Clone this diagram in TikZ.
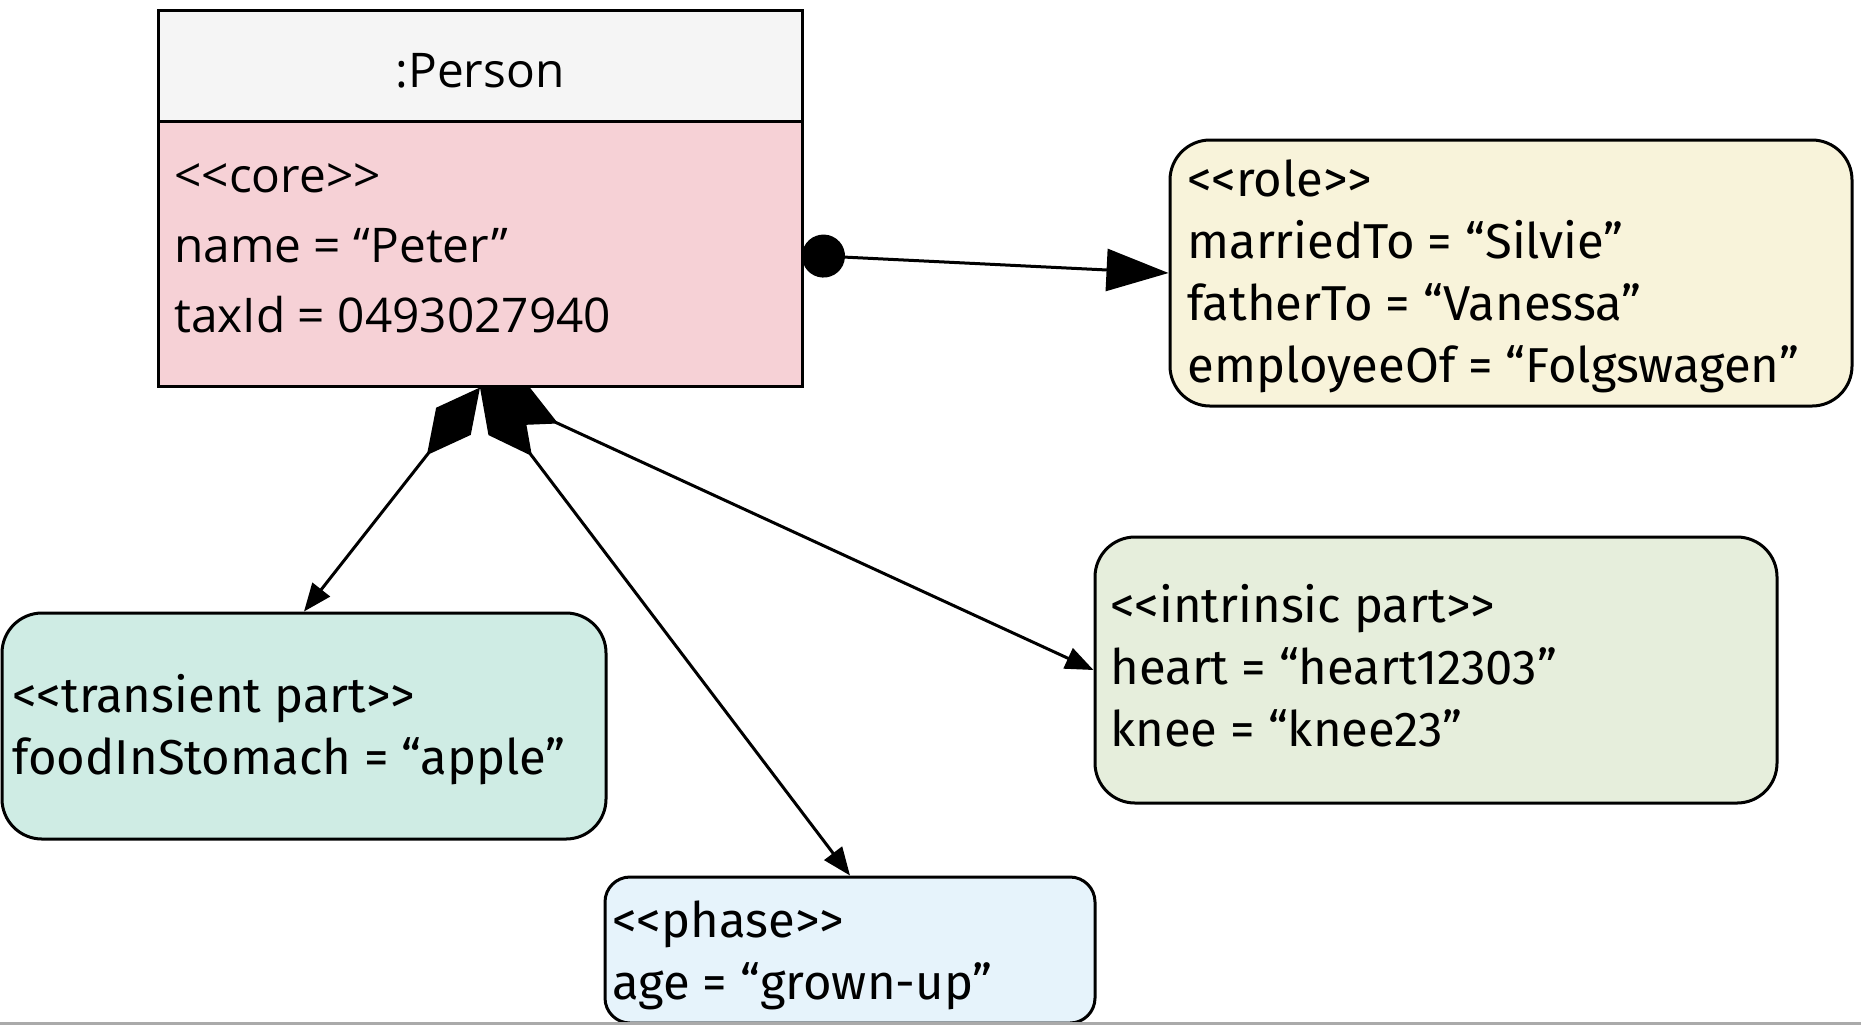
\documentclass[tikz,border=0pt]{standalone}
\usepackage{fontspec}
\setmainfont{Fira Sans}
\newfontfamily\objfont{Open Sans}
\usetikzlibrary{arrows.meta}

\definecolor{headfill}{HTML}{F5F5F5}
\definecolor{corefill}{HTML}{F6D1D6}
\definecolor{rolefill}{HTML}{F8F3DA}
\definecolor{transfill}{HTML}{CFECE4}
\definecolor{intrfill}{HTML}{E6EEDC}
\definecolor{phasefill}{HTML}{E6F3FB}
\definecolor{rulegray}{HTML}{AAAAAA}

% stereotype label with the angle brackets kept apart
\newcommand{\stereo}[1]{<{}<#1>{}>}

\begin{document}
\begin{tikzpicture}[x=0.5pt,y=-0.5pt,
  box/.style={draw=black, line width=1.5pt, inner sep=0pt},
  roundbox/.style={box, rounded corners=20pt},
  txt/.style={inner sep=0pt, anchor=base west, font=\fontsize{24.5pt}{29pt}\selectfont},
  objtxt/.style={txt, font=\objfont\fontsize{23.9pt}{29pt}\selectfont},
  conn/.style={draw=black, line width=1.5pt},
  part/.style={conn, {Diamond[length=43pt,width=22pt]}-{Triangle[length=14pt,width=11pt]}}
]
\useasboundingbox (0,0) rectangle (1861,1025);
\fill[white] (0,0) rectangle (1861,1025);

% object box: header and attribute compartment
\node[box, fill=corefill, minimum width=322pt, minimum height=188pt] (person) at (480,198) {};
\node[box, fill=headfill, minimum width=322pt, minimum height=55.5pt] (personhead) at (480,65.5) {};
\node[objtxt, anchor=base] (title) at (480,87) {:Person};
\foreach \t [count=\i] in {\stereo{core}, name = “Peter”, taxId = 0493027940}
  \node[objtxt] (core-\i) at (174,{192+70*(\i-1)}) {\t};

% role box
\node[roundbox, fill=rolefill, minimum width=341pt, minimum height=133pt] (role) at (1511,273) {};
\foreach \t [count=\i] in {\stereo{role}, marriedTo = “Silvie”, fatherTo = “Vanessa”, employeeOf = “Folgswagen”}
  \node[txt] (role-\i) at (1187,{196+62*(\i-1)}) {\t};

% transient part box
\node[roundbox, fill=transfill, minimum width=302pt, minimum height=113pt] (transient) at (304,726) {};
\foreach \t [count=\i] in {\stereo{transient part}, foodInStomach = “apple”}
  \node[txt] (trans-\i) at (12,{712+62*(\i-1)}) {\t};

% intrinsic part box
\node[roundbox, fill=intrfill, minimum width=341pt, minimum height=133pt] (intrinsic) at (1436,670) {};
\foreach \t [count=\i] in {\stereo{intrinsic part}, heart = “heart12303”, knee = “knee23”}
  \node[txt] (intr-\i) at (1110,{622+62*(\i-1)}) {\t};

% phase box
\node[box, rounded corners=12.5pt, fill=phasefill, minimum width=245pt, minimum height=73pt] (phase) at (850,950) {};
\foreach \t [count=\i] in {\stereo{phase}, age = “grown-up”}
  \node[txt] (phase-\i) at (612,{937+62*(\i-1)}) {\t};

% role association
\coordinate (roleport) at (802,255);
\draw[conn, {Circle[length=21.5pt]}-{Triangle[length=31pt,width=21pt]}] (roleport) -- (role.west);

% composition links
\draw[part] (person.south) -- (transient.north);
\draw[part] (person.south) -- (phase.north);
\draw[part] (person.south) -- (intrinsic.west);

% bottom rule
\draw[rulegray, line width=1.5pt] (0,1023.5) -- (1861,1023.5);
\end{tikzpicture}
\end{document}
